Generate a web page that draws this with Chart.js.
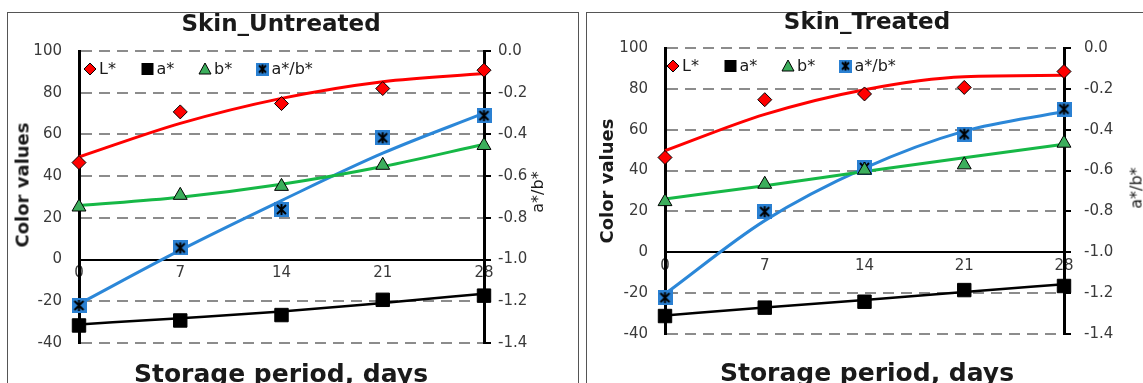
<!DOCTYPE html>
<html>
<head>
<meta charset="utf-8">
<script src="https://cdn.jsdelivr.net/npm/chart.js@4.4.1/dist/chart.umd.min.js"></script>
<style>
  body { margin: 0; background: #fff; width: 1143px; height: 383px; overflow: hidden; position: relative; font-family: "DejaVu Sans", sans-serif; }
  .panel { position: absolute; border: 1px solid #555; box-sizing: border-box; }
  canvas { position: absolute; }
  .txt { position: absolute; white-space: nowrap; color: #1a1a1a; transform: translate(-50%, -50%); }
  .title { font-weight: bold; font-size: 23px; }
  .xtitle { font-weight: bold; font-size: 25px; }
  .ytitle { font-weight: bold; font-size: 18px; transform: translate(-50%, -50%) rotate(-90deg); }
  .rtitle { font-size: 16px; transform: translate(-50%, -50%) rotate(-90deg); }
</style>
</head>
<body>
<div class="panel" style="left:7px; top:12px; width:572px; height:400px;"></div>
<div class="panel" style="left:586px; top:12px; width:562px; height:400px;"></div>

<canvas id="untreated" width="571" height="371" style="left:7px; top:12px;"></canvas>
<canvas id="treated" width="557" height="371" style="left:586px; top:12px;"></canvas>

<div class="txt title" style="left:281px; top:23px;">Skin_Untreated</div>
<div class="txt title" style="left:867px; top:21px;">Skin_Treated</div>
<div class="txt xtitle" style="left:281px; top:373px;">Storage period, days</div>
<div class="txt xtitle" style="left:867px; top:372px;">Storage period, days</div>
<div class="txt ytitle" style="left:22px; top:185px;">Color values</div>
<div class="txt ytitle" style="left:606px; top:181px;">Color values</div>
<div class="txt rtitle" style="left:537px; top:192px;">a*/b*</div>
<div class="txt rtitle" style="left:1136px; top:188px;">a*/b*</div>

<script>
// storage days
const days = [0, 7, 14, 21, 28];
const colorTicks = [-40, -20, 0, 20, 40, 60, 80, 100];
const ratioTicks = [-1.4, -1.2, -1.0, -0.8, -0.6, -0.4, -0.2, 0.0];

// Skin_Untreated
const untreatedL = [46.5, 70.8, 74.8, 82.0, 90.8];
const untreatedA = [-31.6, -29.2, -26.6, -19.3, -17.3];
const untreatedB = [25.2, 30.8, 35.1, 45.2, 54.7];
const untreatedRatio = [-1.22, -0.944, -0.76, -0.416, -0.31];
// trend lines
const untreatedTrendL = [49.2, 65.3, 77.3, 85.3, 89.2];
const untreatedTrendA = [-31.1, -28.1, -24.9, -20.8, -16.4];
const untreatedTrendB = [25.9, 29.9, 36.1, 44.6, 55.3];
const untreatedTrendRatio = [-1.213, -0.955, -0.717, -0.49, -0.298];

// Skin_Treated
const treatedL = [46.4, 74.7, 77.5, 80.7, 88.5];
const treatedA = [-31.2, -27.1, -24.2, -18.5, -16.5];
const treatedB = [24.8, 33.3, 40.2, 42.8, 53.4];
const treatedRatio = [-1.222, -0.801, -0.585, -0.422, -0.299];
const treatedTrendL = [49.7, 67.5, 79.6, 85.9, 86.6];
const treatedTrendA = [-30.9, -27.0, -23.3, -19.4, -15.7];
const treatedTrendB = [26.1, 32.6, 39.5, 46.3, 52.9];
const treatedTrendRatio = [-1.204, -0.845, -0.588, -0.407, -0.311];

const RED = '#ff0000';
const GREEN_LINE = '#16b846';
const GREEN_FILL = '#3cae5c';
const BLUE_LINE = '#2b87d8';
const BLUE_FILL = '#2a80d2';
const TICK_COLOR = '#3a3a3a';
const FONT = '"DejaVu Sans", sans-serif';

// blue box with black asterisk, like the excel marker
function makeStarBox(size) {
    const c = document.createElement('canvas');
    c.width = size; c.height = size;
    const g = c.getContext('2d');
    g.fillStyle = BLUE_FILL;
    g.fillRect(0, 0, size, size);
    g.strokeStyle = '#000';
    g.lineWidth = 2;
    const m = size / 2, p = 3;
    g.beginPath();
    g.moveTo(m, p - 1); g.lineTo(m, size - p + 1);
    g.moveTo(p, p); g.lineTo(size - p, size - p);
    g.moveTo(size - p, p); g.lineTo(p, size - p);
    g.stroke();
    return c;
}
const starBox = makeStarBox(15);
const starBoxSmall = makeStarBox(13);

const pts = (ys) => days.map((d, i) => ({ x: d, y: ys[i] }));

// legend drawn inside the plot area, top-left
const insideLegend = {
    id: 'insideLegend',
    afterDraw(chart, args, opts) {
        const { ctx, chartArea } = chart;
        const y = chartArea.top + opts.offsetY;
        ctx.save();
        ctx.font = '16px ' + FONT;
        ctx.textBaseline = 'middle';
        ctx.textAlign = 'left';
        opts.items.forEach((it, i) => {
            const x = chartArea.left + opts.offsetX + i * opts.spacing;
            ctx.lineWidth = 1;
            ctx.strokeStyle = '#000';
            ctx.fillStyle = it.fill;
            ctx.beginPath();
            if (it.shape === 'diamond') {
                ctx.moveTo(x, y - 6); ctx.lineTo(x + 6, y); ctx.lineTo(x, y + 6); ctx.lineTo(x - 6, y);
                ctx.closePath(); ctx.fill(); ctx.stroke();
            } else if (it.shape === 'square') {
                ctx.rect(x - 6, y - 6, 12, 12); ctx.fill();
            } else if (it.shape === 'triangle') {
                ctx.moveTo(x, y - 6); ctx.lineTo(x + 6, y + 5); ctx.lineTo(x - 6, y + 5);
                ctx.closePath(); ctx.fill(); ctx.stroke();
            } else {
                ctx.drawImage(starBoxSmall, x - 6.5, y - 6.5);
            }
            ctx.fillStyle = '#1a1a1a';
            ctx.fillText(it.label, x + 9, y + 1);
        });
        ctx.restore();
    }
};

const legendItems = [
    { label: 'L*', shape: 'diamond', fill: RED },
    { label: 'a*', shape: 'square', fill: '#000' },
    { label: 'b*', shape: 'triangle', fill: GREEN_FILL },
    { label: 'a*/b*', shape: 'star', fill: BLUE_FILL }
];

function markerSet(label, ys, axis, style, fill, border, radius) {
    return {
        label: label, data: pts(ys), yAxisID: axis, showLine: false,
        pointStyle: style, pointRadius: radius, pointHoverRadius: radius,
        pointBackgroundColor: fill, pointBorderColor: border, pointBorderWidth: 1
    };
}

function trendSet(ys, axis, color, width) {
    return {
        label: 'trend', data: pts(ys), yAxisID: axis, showLine: true,
        borderColor: color, borderWidth: width || 3, pointRadius: 0,
        cubicInterpolationMode: 'monotone', fill: false
    };
}

function makeChart(id, s) {
    const ctx = document.getElementById(id).getContext('2d');
    return new Chart(ctx, {
        type: 'scatter',
        data: {
            datasets: [
                markerSet('L*', s.L, 'y', 'rectRot', RED, '#000', 7),
                markerSet('a*', s.A, 'y', 'rect', '#000', '#000', 9.5),
                markerSet('b*', s.B, 'y', 'triangle', GREEN_FILL, '#000', 8),
                markerSet('a*/b*', s.R, 'y1', starBox, BLUE_FILL, '#000', 8),
                trendSet(s.tL, 'y', RED),
                trendSet(s.tA, 'y', '#000', 2.5),
                trendSet(s.tB, 'y', GREEN_LINE),
                trendSet(s.tR, 'y1', BLUE_LINE)
            ]
        },
        options: {
            responsive: false,
            animation: false,
            clip: false,
            layout: { padding: { left: 0, right: 0, top: s.padTop, bottom: s.padBottom } },
            plugins: {
                legend: { display: false },
                tooltip: { enabled: false },
                insideLegend: { items: legendItems, offsetX: s.legendX, offsetY: 18, spacing: 57.5 }
            },
            scales: {
                x: {
                    type: 'linear', min: 0, max: 28,
                    position: { y: 0 },
                    afterBuildTicks: (sc) => { sc.ticks = days.map(v => ({ value: v })); },
                    grid: { display: false, drawTicks: false },
                    border: { display: true, color: '#000', width: 2 },
                    ticks: { color: TICK_COLOR, font: { family: FONT, size: 15 }, padding: 5, maxRotation: 0 }
                },
                y: {
                    type: 'linear', position: 'left', min: -40, max: 100,
                    afterBuildTicks: (sc) => { sc.ticks = colorTicks.map(v => ({ value: v })); },
                    afterFit: (sc) => { sc.width = s.leftW; },
                    grid: {
                        drawTicks: false,
                        color: (c) => c.tick && c.tick.value === 0 ? 'rgba(0,0,0,0)' : '#8c8c8c',
                        lineWidth: 2
                    },
                    border: { display: true, color: '#000', width: 3, dash: [11, 7] },
                    ticks: { color: TICK_COLOR, font: { family: FONT, size: 15 }, padding: 17 }
                },
                y1: {
                    type: 'linear', position: 'right', min: -1.4, max: 0,
                    afterBuildTicks: (sc) => { sc.ticks = ratioTicks.map(v => ({ value: v })); },
                    afterFit: (sc) => { sc.width = s.rightW; },
                    grid: { drawOnChartArea: false, drawTicks: true, tickLength: 7, color: '#000', lineWidth: 2 },
                    border: { display: true, color: '#000', width: 3 },
                    ticks: {
                        color: TICK_COLOR, font: { family: FONT, size: 15 }, padding: s.rightPad,
                        callback: (v) => Number(v).toFixed(1)
                    }
                }
            }
        },
        plugins: [insideLegend]
    });
}

makeChart('untreated', {
    L: untreatedL, A: untreatedA, B: untreatedB, R: untreatedRatio,
    tL: untreatedTrendL, tA: untreatedTrendA, tB: untreatedTrendB, tR: untreatedTrendRatio,
    padTop: 39, padBottom: 40, leftW: 72, rightW: 94, rightPad: 7, legendX: 11
});

makeChart('treated', {
    L: treatedL, A: treatedA, B: treatedB, R: treatedRatio,
    tL: treatedTrendL, tA: treatedTrendA, tB: treatedTrendB, tR: treatedTrendRatio,
    padTop: 36, padBottom: 49, leftW: 79, rightW: 79, rightPad: 13, legendX: 8
});
</script>
</body>
</html>
